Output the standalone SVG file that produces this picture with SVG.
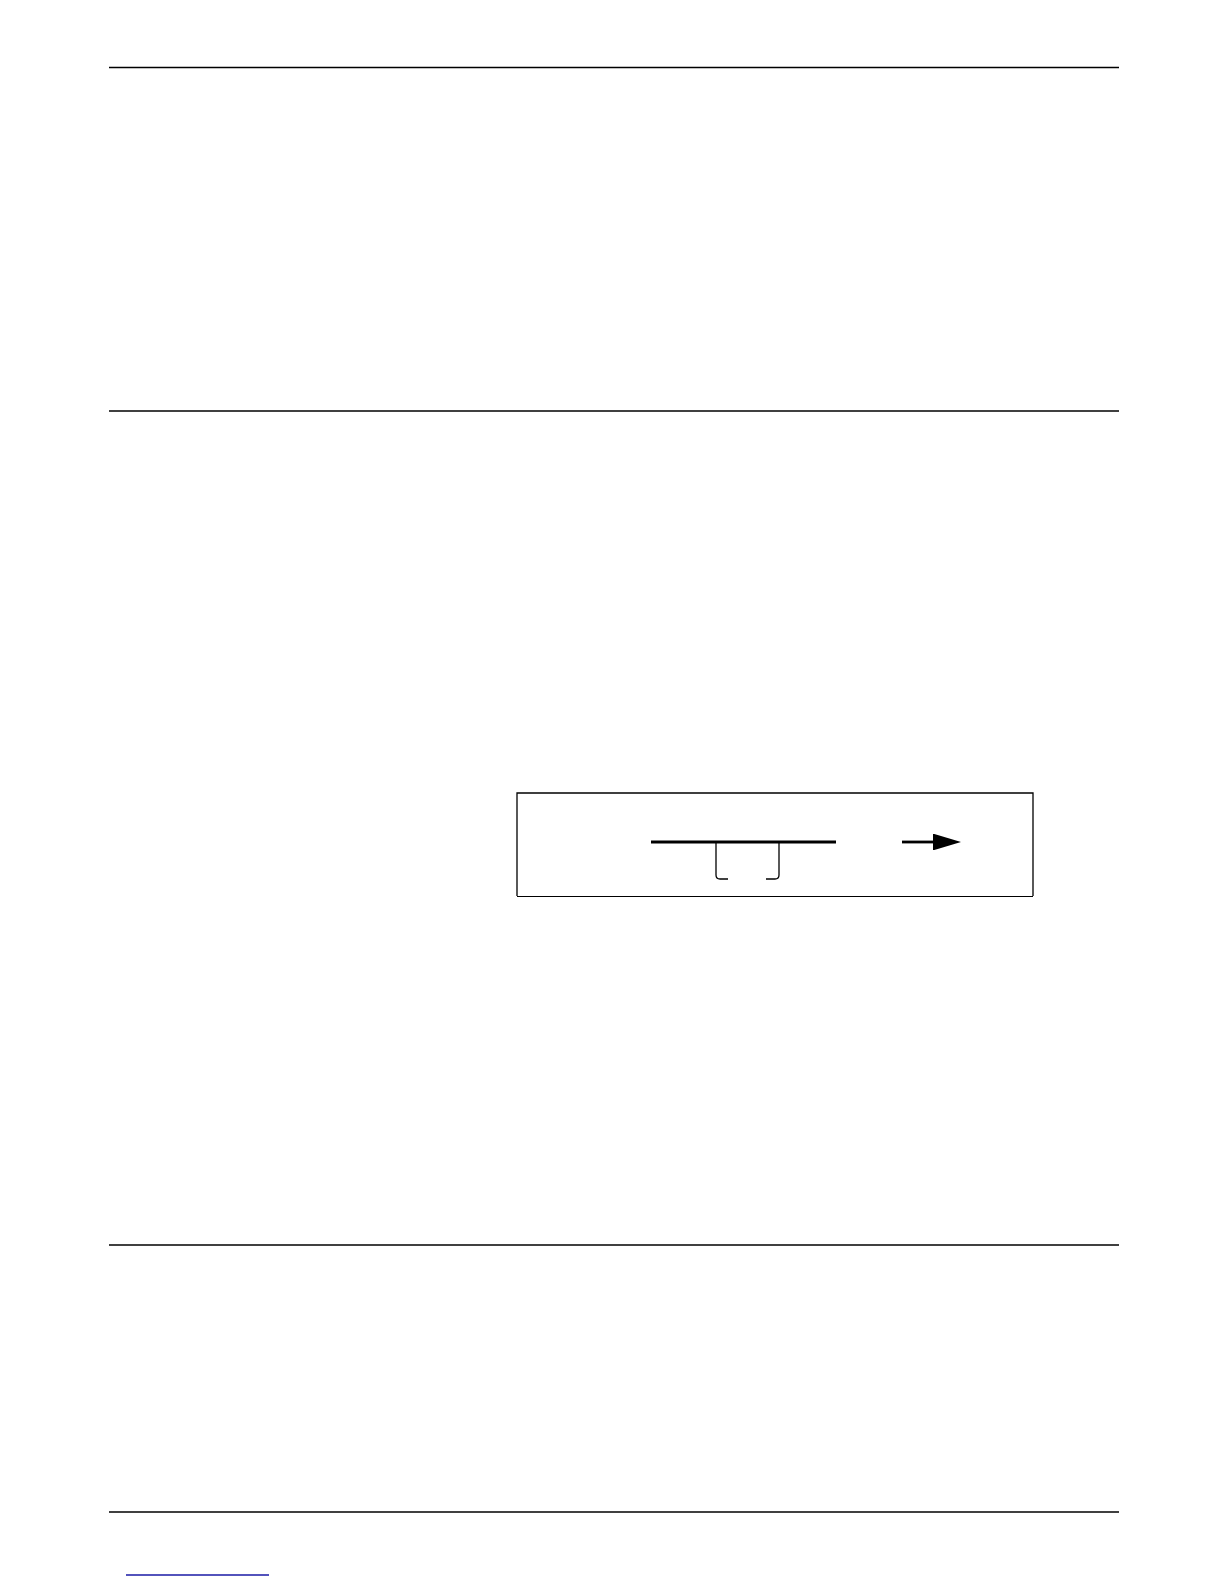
<svg xmlns="http://www.w3.org/2000/svg" width="1224" height="1584" viewBox="0 0 1224 1584">
<style>
.rule{stroke:#000;stroke-width:1.5;fill:none}
.thin{stroke:#000;stroke-width:1.3;fill:none}
.thick{stroke:#000;stroke-width:3;fill:none}
</style>
<defs>
<marker id="ah" markerWidth="10" markerHeight="6" refX="0" refY="3" orient="auto" markerUnits="strokeWidth">
<path d="M0,0 L10,3 L0,6 Z" fill="#000"/>
</marker>
</defs>
<rect width="1224" height="1584" fill="#fff"/>
<g id="rules">
<line class="rule" x1="109" y1="67.5" x2="1119" y2="67.5"/>
<line class="rule" x1="109" y1="411" x2="1119" y2="411"/>
<line class="rule" x1="109" y1="1245" x2="1119" y2="1245"/>
<line class="rule" x1="109" y1="1512" x2="1119" y2="1512"/>
<line x1="126" y1="1575" x2="269" y2="1575" stroke="#1a1aa6" stroke-width="1.3"/>
</g>
<g id="frame">
<path class="thin" d="M517,896 V793 H1033 V896"/>
<line x1="517" y1="896.5" x2="1033" y2="896.5" stroke="#000" stroke-width="1"/>
</g>
<g id="beam">
<line class="thick" x1="651" y1="842" x2="836" y2="842"/>
<path class="thin" d="M716,842 V875 Q716,879 720,879 H728"/>
<path class="thin" d="M779,842 V875 Q779,879 775,879 H766"/>
</g>
<g id="connectors">
<line x1="902" y1="842" x2="933" y2="842" stroke="#000" stroke-width="2.8" marker-end="url(#ah)"/>
</g>
</svg>
